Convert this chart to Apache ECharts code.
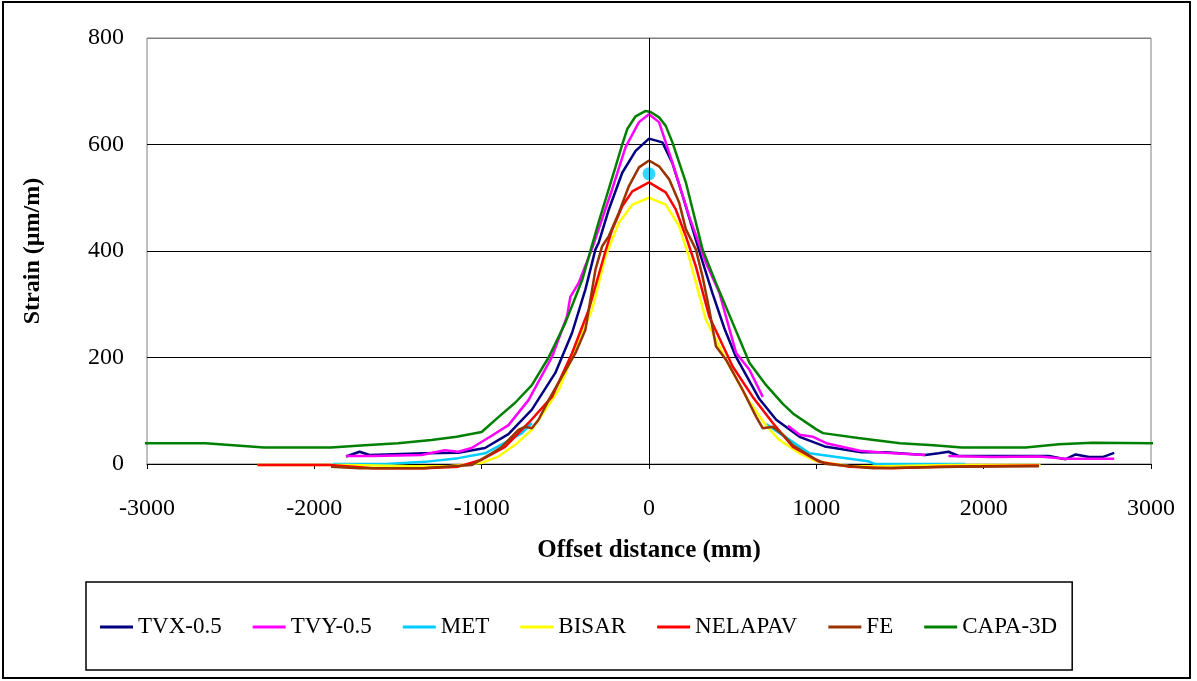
<!DOCTYPE html>
<html>
<head>
<meta charset="utf-8">
<script src="https://cdn.jsdelivr.net/npm/echarts@6/dist/echarts.min.js"></script>
<style>
html,body{margin:0;padding:0;background:#fff;}
#chart{width:1197px;height:681px;}
</style>
</head>
<body>
<div id="chart"></div>
<script>
// ---- Data ----
var seriesNames = ['TVX-0.5','TVY-0.5','MET','BISAR','NELAPAV','FE','CAPA-3D'];
var xTicks = [-3000,-2000,-1000,0,1000,2000,3000];
var yTicks = [0,200,400,600,800];

var tvxX = [-1810,-1730,-1670,-1340,-1140,-980,-840,-700,-560,-460,-380,-320,-300,-240,-160,-80,0,80,140,200,300,380,450,520,660,760,900,1050,1270,1410,1650,1730,1790,1850,2170,2390,2490,2550,2630,2710,2780];
var tvxY = [14,23,17,20,21,30,56,102,171,246,328,403,416,478,547,588,611,604,565,505,400,320,255,201,122,83,51,33,22,22,17,20,23,15,15,15,9,18,13,13,21];

var tvyX = [-1810,-1650,-1360,-1220,-1140,-1060,-940,-840,-720,-580,-490,-470,-420,-340,-220,-140,-60,0,60,140,240,340,420,520,600,680,null,830,900,980,1060,1260,1410,1650,null,1790,2050,2330,2490,2780];
var tvyY = [15,15,17,26,23,30,53,73,120,201,277,314,340,405,516,595,642,657,642,566,465,378,322,209,177,126,null,72,55,51,39,25,21,17,null,15,13,14,10,10];

var metX = [-1890,-1570,-1340,-1140,-980,-860,-760,-700,null,700,780,960,1100,1310,1350,1550,1890];
var metY = [0,0,4,11,20,40,58,77,null,75,58,20,14,5,0,0,0];
var metPointX = [0];
var metPointY = [545];

var bisarX = [-2340,-1800,-1400,-1200,-1000,-900,-800,-700,-540,-440,-340,-260,-180,-100,0,100,180,240,340,460,580,700,780,900,1000,1200,1400,1800,2340];
var bisarY = [-2,-2,-4,-4,2,14,36,64,139,215,290,390,453,487,500,487,447,388,271,196,126,72,45,20,5,-4,-4,-2,-2];

var nelX = [-2340,-1910,-1650,-1340,-1140,-1000,-860,-720,-580,-460,-360,-260,-220,-160,-100,0,100,160,220,280,360,500,620,740,860,1020,1200,1450,1730,2330];
var nelY = [-2,-2,-8,-8,-5,8,32,77,126,208,290,400,440,484,512,529,510,478,428,371,277,183,126,77,32,4,-5,-8,-5,-3];

var feX = [-1900,-1730,-1350,-1060,-940,-880,-780,-740,-700,-660,-600,-520,-440,-380,-320,-280,-240,-180,-120,-60,0,60,120,180,220,280,320,360,400,460,560,640,680,740,800,860,1000,1060,1340,1850,2330];
var feY = [-5,-8,-8,-2,20,32,64,70,67,83,120,164,208,252,365,409,428,472,522,557,570,559,535,491,441,403,352,290,221,196,139,89,67,70,55,35,8,0,-8,-5,-4];

var capaX = [-3050,-2650,-2300,-1900,-1700,-1500,-1300,-1150,-1000,-900,-800,-700,-600,-500,-400,-300,-200,-160,-130,-80,-20,10,60,100,140,220,320,400,500,600,700,800,860,1000,1040,1250,1500,1700,1870,2250,2450,2650,3070];
var capaY = [39,39,31,31,35,39,45,51,60,88,115,148,200,265,345,455,558,600,629,653,663,661,651,635,604,529,403,340,265,190,148,113,95,65,58,49,39,35,31,31,37,40,39];

var colors = ['#000080','#FF00FF','#00CCFF','#FFFF00','#FF0000','#993300','#008000'];

function pairs(xs, ys){
  var out = [];
  for (var i = 0; i < xs.length; i++) {
    if (xs[i] === null || ys[i] === null) { out.push(['-','-']); }
    else { out.push([xs[i], ys[i]]); }
  }
  return out;
}

var allData = [
  pairs(tvxX, tvxY), pairs(tvyX, tvyY), pairs(metX, metY), pairs(bisarX, bisarY),
  pairs(nelX, nelY), pairs(feX, feY), pairs(capaX, capaY)
];

var FONT = 'Liberation Serif';

var series = seriesNames.map(function(n, i){
  var s = {
    name: n, type: 'line', data: allData[i], symbol: 'none', showSymbol: false,
    clip: false, connectNulls: false, smooth: false,
    lineStyle: {color: colors[i], width: 2.5}, itemStyle: {color: colors[i]},
    emphasis: {disabled: true}, silent: true
  };
  if (i === 0) {
    s.markLine = {
      silent: true, symbol: 'none', label: {show: false},
      lineStyle: {color: '#000', width: 1, type: 'solid'},
      data: [{xAxis: xTicks[3]}]
    };
  }
  return s;
});
series.push({
  name: 'MET point', type: 'scatter', data: pairs(metPointX, metPointY),
  symbol: 'circle', symbolSize: 13, itemStyle: {color: '#00CCFF'}, silent: true, z: 3
});

var chart = echarts.init(document.getElementById('chart'), null, {renderer: 'canvas'});
chart.setOption({
  animation: false,
  backgroundColor: '#fff',
  color: colors,
  graphic: [{
    type: 'rect', shape: {x: 3, y: 2, width: 1187, height: 676},
    style: {fill: 'none', stroke: '#000', lineWidth: 2}, silent: true, z: -1
  }],
  grid: {left: 147, top: 38, right: 46, bottom: 217, show: true, borderColor: '#808080', borderWidth: 1, backgroundColor: 'transparent'},
  legend: {
    data: seriesNames, left: 86, top: 582, orient: 'horizontal',
    padding: [33, 15, 31, 14], itemGap: 31, itemWidth: 33, itemHeight: 3,
    icon: 'rect', borderColor: '#000', borderWidth: 1.5,
    textStyle: {fontFamily: FONT, fontSize: 23, color: '#000', lineHeight: 24},
    selectedMode: false
  },
  xAxis: {
    type: 'value', min: xTicks[0], max: xTicks[xTicks.length-1], interval: 1000,
    axisLine: {show: true, onZero: true, lineStyle: {color: '#000', width: 1}},
    axisTick: {show: true, length: 5, lineStyle: {color: '#000'}},
    splitLine: {show: false},
    axisLabel: {fontFamily: FONT, fontSize: 24, color: '#000', margin: 33,
      formatter: function(v){ return String(v); }},
    name: 'Offset distance (mm)', nameLocation: 'middle', nameGap: 74,
    nameTextStyle: {fontFamily: FONT, fontSize: 25, fontWeight: 'bold', color: '#000'}
  },
  yAxis: {
    type: 'value', min: yTicks[0], max: yTicks[yTicks.length-1], interval: 200,
    axisLine: {show: false},
    axisTick: {show: false},
    splitLine: {show: true, lineStyle: {color: ['#000','#000','#000','#000','#808080'], width: 1}},
    axisLabel: {fontFamily: FONT, fontSize: 24, color: '#000', margin: 23,
      formatter: function(v){ return String(v); }},
    name: 'Strain (µm/m)', nameLocation: 'middle', nameRotate: 90, nameGap: 102,
    nameTextStyle: {fontFamily: FONT, fontSize: 24, fontWeight: 'bold', color: '#000'}
  },
  series: series
});
</script>
</body>
</html>
